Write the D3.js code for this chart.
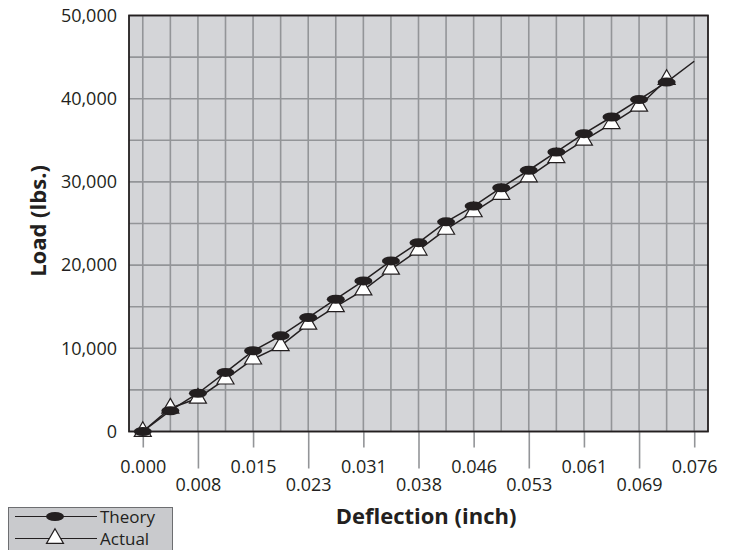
<!DOCTYPE html>
<html>
<head>
<meta charset="utf-8">
<script src="https://cdn.jsdelivr.net/npm/d3@7"></script>
<style>
  body { margin: 0; background: #fff; }
  text { font-family: "Open Sans", sans-serif; fill: #231f20; }
</style>
</head>
<body>
<svg id="chart" width="731" height="550"></svg>
<script>
// deflection (inch) where readings were taken
const deflection = [0, 0.0038, 0.0076, 0.0114, 0.0152, 0.019, 0.0228, 0.0266, 0.0304, 0.0342,
  0.038, 0.0418, 0.0456, 0.0494, 0.0532, 0.057, 0.0608, 0.0646, 0.0684, 0.0722];
const theoryLoad = [0, 2500, 4600, 7100, 9700, 11500, 13700, 15900, 18100, 20500,
  22700, 25200, 27100, 29300, 31400, 33600, 35800, 37800, 39900, 42000];
const actualLoad = [0, 2800, 4000, 6300, 8700, 10300, 12900, 15000, 17000, 19500,
  21800, 24300, 26400, 28500, 30600, 32900, 35000, 37000, 39100, 42300];
// theory line is carried on past the last reading
const theoryEnd = [0.076, 44500];

const xTickValues = [0, 0.0076, 0.0152, 0.0228, 0.0304, 0.038, 0.0456, 0.0532, 0.0608, 0.0684, 0.076];
const xTickLabels = ["0.000", "0.008", "0.015", "0.023", "0.031", "0.038", "0.046", "0.053", "0.061", "0.069", "0.076"];
const yTickValues = [0, 10000, 20000, 30000, 40000, 50000];

const svg = d3.select("#chart");
const plot = { left: 129, right: 708, top: 15.5, bottom: 431.5 };

const x = d3.scaleLinear().domain([-0.0019, 0.0779]).range([plot.left, plot.right]);
const y = d3.scaleLinear().domain([0, 50000]).range([plot.bottom, plot.top]);

// plot background
svg.append("rect")
  .attr("x", plot.left).attr("y", plot.top)
  .attr("width", plot.right - plot.left).attr("height", plot.bottom - plot.top)
  .attr("fill", "#d4d5d8");

// grid
const grid = svg.append("g").attr("stroke", "#939598").attr("stroke-width", 1.6);
grid.selectAll(".gx")
  .data(d3.range(21).map(i => i * 0.0038))
  .join("line")
  .attr("class", "gx")
  .attr("x1", d => x(d)).attr("x2", d => x(d))
  .attr("y1", plot.top).attr("y2", plot.bottom);
grid.selectAll(".gy")
  .data(d3.range(0, 50001, 5000))
  .join("line")
  .attr("class", "gy")
  .attr("x1", plot.left).attr("x2", plot.right)
  .attr("y1", d => y(d)).attr("y2", d => y(d));

// x axis, labels staggered on two rows
const xAxis = svg.append("g")
  .attr("transform", `translate(0,${plot.bottom})`)
  .call(d3.axisBottom(x).tickValues(xTickValues)
    .tickFormat((d, i) => xTickLabels[i]).tickSizeOuter(0));
xAxis.select(".domain").remove();
xAxis.selectAll(".tick line")
  .attr("stroke", "#939598").attr("stroke-width", 1.6)
  .attr("y2", (d, i) => i % 2 ? 37 : 16);
xAxis.selectAll(".tick text")
  .attr("font-size", 18)
  .attr("font-family", "Open Sans")
  .attr("fill", "#231f20")
  .attr("dy", null)
  .attr("y", (d, i) => i % 2 ? 59 : 41);

// y axis
const yAxis = svg.append("g")
  .attr("transform", `translate(${plot.left},0)`)
  .call(d3.axisLeft(y).tickValues(yTickValues).tickSize(0).tickPadding(12)
    .tickFormat(d3.format(",")));
yAxis.select(".domain").remove();
yAxis.selectAll(".tick text")
  .attr("font-size", 18)
  .attr("font-family", "Open Sans")
  .attr("fill", "#231f20");

// frame
svg.append("rect")
  .attr("x", plot.left).attr("y", plot.top)
  .attr("width", plot.right - plot.left).attr("height", plot.bottom - plot.top)
  .attr("fill", "none").attr("stroke", "#231f20").attr("stroke-width", 1.8);

// lines
const line = d3.line().x(d => x(d[0])).y(d => y(d[1]));
const theoryPts = deflection.map((d, i) => [d, theoryLoad[i]]);
const actualPts = deflection.map((d, i) => [d, actualLoad[i]]);

svg.append("path")
  .datum(actualPts)
  .attr("d", line)
  .attr("fill", "none").attr("stroke", "#231f20").attr("stroke-width", 1.5);
svg.append("path")
  .datum(theoryPts.concat([theoryEnd]))
  .attr("d", line)
  .attr("fill", "none").attr("stroke", "#231f20").attr("stroke-width", 1.5);

const tri = d3.symbol().type(d3.symbolTriangle).size(125);

svg.append("g").selectAll("path")
  .data(actualPts)
  .join("path")
  .attr("d", tri)
  .attr("transform", d => `translate(${x(d[0])},${y(d[1])})`)
  .attr("fill", "#fff").attr("stroke", "#231f20").attr("stroke-width", 1.2);

svg.append("g").selectAll("ellipse")
  .data(theoryPts)
  .join("ellipse")
  .attr("cx", d => x(d[0])).attr("cy", d => y(d[1]))
  .attr("rx", 9).attr("ry", 4.5)
  .attr("fill", "#231f20");

// axis titles
svg.append("text")
  .attr("x", 426).attr("y", 524)
  .attr("text-anchor", "middle")
  .attr("font-size", 22).attr("font-weight", "bold")
  .text("Deflection (inch)");

svg.append("text")
  .attr("transform", "translate(37,221) rotate(-90)")
  .attr("text-anchor", "middle")
  .attr("dominant-baseline", "central")
  .attr("font-size", 22).attr("font-weight", "bold")
  .text("Load (lbs.)");

// legend
const legend = svg.append("g");
legend.append("rect")
  .attr("x", 8.5).attr("y", 507.5).attr("width", 164).attr("height", 50)
  .attr("fill", "#c9cacd").attr("stroke", "#6d6e71").attr("stroke-width", 1);

const legendItems = [
  { name: "Theory", cy: 516.5 },
  { name: "Actual", cy: 538.5 }
];
legend.selectAll(".lline")
  .data(legendItems)
  .join("line")
  .attr("class", "lline")
  .attr("x1", 15).attr("x2", 97)
  .attr("y1", d => d.cy).attr("y2", d => d.cy)
  .attr("stroke", "#231f20").attr("stroke-width", 1.2);
legend.append("ellipse")
  .attr("cx", 55).attr("cy", legendItems[0].cy)
  .attr("rx", 9).attr("ry", 4.5).attr("fill", "#231f20");
legend.append("path")
  .attr("d", tri)
  .attr("transform", `translate(55,${legendItems[1].cy})`)
  .attr("fill", "#fff").attr("stroke", "#231f20").attr("stroke-width", 1.2);
legend.selectAll(".ltext")
  .data(legendItems)
  .join("text")
  .attr("class", "ltext")
  .attr("x", 100).attr("y", d => d.cy)
  .attr("dominant-baseline", "central")
  .attr("font-size", 17)
  .text(d => d.name);
</script>
</body>
</html>
